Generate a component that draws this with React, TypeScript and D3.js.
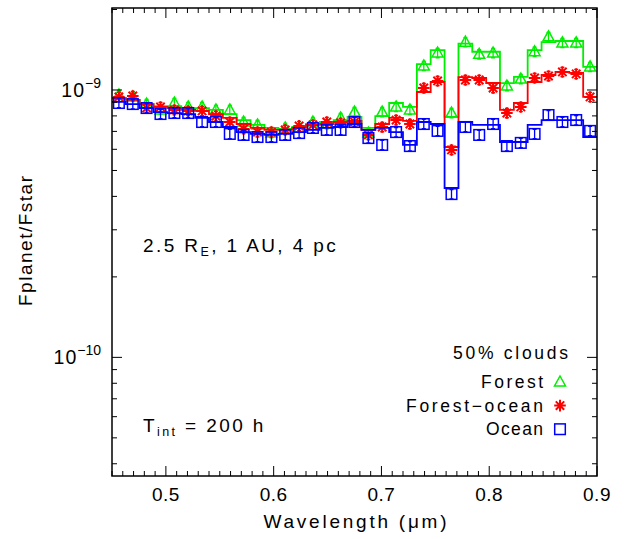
import React from 'react';
import * as d3 from 'd3';

// Bin centres (micron), uniform bins
const WAVELENGTH = [
  0.4564, 0.4693, 0.4821, 0.495, 0.5079, 0.5207, 0.5336, 0.5464, 0.5593, 0.5721,
  0.585, 0.5979, 0.6107, 0.6236, 0.6364, 0.6493, 0.6621, 0.675, 0.6879, 0.7007,
  0.7136, 0.7264, 0.7393, 0.7521, 0.765, 0.7779, 0.7907, 0.8036, 0.8164, 0.8293,
  0.8421, 0.855, 0.8679, 0.8807, 0.8936,
];
const BIN_WIDTH = 0.012857;

// Values in units of 1e-10
const FOREST_MODEL = [9.33, 9.18, 8.86, 8.71, 8.71, 8.56, 8.56, 8.42, 8.13, 7.72, 7.4, 7.21, 7.15, 7.27, 7.46, 7.59, 7.72, 7.93, 7.21, 7.99, 8.94, 8.64, 12.5, 14.1, 7.93, 14.9, 13.9, 13.9, 10.6, 11.2, 14.1, 15.1, 15.25, 15.25, 12.2];
const FOREST_OBS = [9.58, 9.42, 8.86, 8.42, 8.94, 8.64, 8.64, 8.42, 8.42, 7.59, 7.4, 6.9, 7.21, 7.21, 7.59, 7.46, 7.86, 8.27, 6.9, 8.27, 8.64, 8.42, 12.3, 13.75, 8.2, 15.1, 13.6, 13.75, 10.35, 10.99, 13.9, 15.8, 15.0, 15.0, 12.2];
const FOREST_OCEAN_MODEL = [9.33, 9.18, 8.86, 8.64, 8.56, 8.42, 8.35, 8.13, 7.86, 7.46, 7.21, 7.09, 7.09, 7.21, 7.4, 7.46, 7.59, 7.66, 7.09, 7.46, 7.86, 7.66, 9.83, 10.71, 6.12, 11.18, 11.09, 10.62, 8.42, 8.94, 10.71, 11.38, 11.68, 11.58, 9.42];
const FOREST_OCEAN_OBS = [9.42, 9.5, 8.56, 8.64, 8.42, 8.35, 8.35, 7.99, 7.59, 7.15, 6.96, 6.96, 7.09, 7.34, 7.4, 7.59, 7.53, 7.59, 6.79, 7.27, 7.72, 7.46, 10.17, 10.81, 5.97, 10.9, 10.9, 10.17, 8.2, 8.64, 11.09, 11.28, 11.68, 11.48, 9.42];
const OCEAN_MODEL = [9.02, 8.86, 8.56, 8.27, 8.2, 8.13, 7.86, 7.59, 7.27, 6.96, 6.85, 6.79, 6.85, 6.96, 7.09, 7.21, 7.27, 7.46, 7.09, 7.21, 6.96, 6.23, 7.59, 7.46, 4.3, 7.59, 7.4, 7.4, 6.39, 6.39, 7.4, 7.72, 7.72, 7.72, 6.67];
const OCEAN_OBS = [8.94, 8.86, 8.56, 8.13, 8.2, 8.2, 7.59, 7.59, 6.85, 6.79, 6.67, 6.67, 6.79, 6.9, 7.21, 7.09, 7.09, 7.59, 6.61, 6.23, 6.96, 6.17, 7.46, 7.03, 4.08, 7.27, 6.79, 7.46, 6.17, 6.34, 6.85, 8.06, 7.59, 7.72, 7.03];
const ERR_FRAC = 0.04;
const UNIT = 1e-10;

const SERIES_NAMES = ['Forest', 'Forest\u2212ocean', 'Ocean'];
const SERIES_COLORS = ['#00ee00', '#ff0000', '#0000ff'];
const SERIES_SYMBOLS = ['triangle', 'star', 'square'];

const X_DOMAIN = [0.45, 0.9];
const Y_DOMAIN = [3.6e-11, 2.026e-9];

const W = 635;
const H = 539;
const PL = 112, PR = 597, PT = 8, PB = 476;
const FONT = '"Liberation Sans", Arial, sans-serif';

function Marker({ type, cx, cy, color }: { type: string; cx: number; cy: number; color: string }) {
  const sw = 1.5;
  if (type === 'triangle') {
    const p = `M${cx},${cy - 6}L${cx + 5.5},${cy + 4}L${cx - 5.5},${cy + 4}Z`;
    return <path d={p} fill="none" stroke={color} strokeWidth={sw} />;
  }
  if (type === 'square') {
    return <rect x={cx - 5.3} y={cy - 5.3} width={10.6} height={10.6} fill="none" stroke={color} strokeWidth={sw} />;
  }
  const r = 5.8;
  const d = 4.2;
  const p = `M${cx},${cy - r}V${cy + r}M${cx - r},${cy}H${cx + r}M${cx - d},${cy - d}L${cx + d},${cy + d}M${cx - d},${cy + d}L${cx + d},${cy - d}`;
  return <path d={p} fill="none" stroke={color} strokeWidth={2} />;
}

export default function App() {
  const x = d3.scaleLinear().domain(X_DOMAIN).range([PL, PR]);
  const y = d3.scaleLog().domain(Y_DOMAIN).range([PB, PT]);

  const models = [FOREST_MODEL, FOREST_OCEAN_MODEL, OCEAN_MODEL];
  const obs = [FOREST_OBS, FOREST_OCEAN_OBS, OCEAN_OBS];

  const step = d3
    .line<[number, number]>()
    .x((d) => x(d[0]))
    .y((d) => y(d[1] * UNIT))
    .curve(d3.curveStepAfter);

  const stepPts = (vals: number[]): [number, number][] => {
    const pts: [number, number][] = WAVELENGTH.map((c, i) => [c - BIN_WIDTH / 2, vals[i]]);
    const n = WAVELENGTH.length - 1;
    pts.push([WAVELENGTH[n] + BIN_WIDTH / 2, vals[n]]);
    return pts;
  };

  const xMajor = x.ticks(5);
  const xMinor = x.ticks(45);
  const yTicks = y.ticks();
  const isMajorY = (v: number) => Math.abs(Math.log10(v) - Math.round(Math.log10(v))) < 1e-6;

  return (
    <div style={{ position: 'absolute', left: 0, top: 0 }}>
      <svg width={W} height={H} style={{ display: 'block', background: '#fff' }} fontFamily={FONT}>
        <defs>
          <clipPath id="plot">
            <rect x={PL} y={PT} width={PR - PL} height={PB - PT} />
          </clipPath>
        </defs>
        <rect width={W} height={H} fill="#fff" />

        <g clipPath="url(#plot)">
          {models.map((m, s) => (
            <g key={s}>
              <path d={step(stepPts(m)) || ''} fill="none" stroke={SERIES_COLORS[s]} strokeWidth={1.8} />
              {obs[s].map((v, i) => {
                const cx = x(WAVELENGTH[i]);
                const y0 = y(v * (1 - ERR_FRAC) * UNIT);
                const y1 = y(v * (1 + ERR_FRAC) * UNIT);
                return (
                  <g key={i}>
                    <path
                      d={`M${cx},${y0}V${y1}M${cx - 2},${y0}H${cx + 2}M${cx - 2},${y1}H${cx + 2}`}
                      stroke={SERIES_COLORS[s]}
                      strokeWidth={1.3}
                      fill="none"
                    />
                    <Marker type={SERIES_SYMBOLS[s]} cx={cx} cy={y(v * UNIT)} color={SERIES_COLORS[s]} />
                  </g>
                );
              })}
            </g>
          ))}
        </g>

        {/* frame */}
        <rect x={PL} y={PT} width={PR - PL} height={PB - PT} fill="none" stroke="#000" strokeWidth={1.5} />

        {/* x ticks */}
        {xMinor.map((t, i) => {
          const major = xMajor.some((m) => Math.abs(m - t) < 1e-9);
          const len = major ? 10 : 5;
          const xx = x(t);
          return (
            <g key={i} stroke="#000" strokeWidth={1}>
              <line x1={xx} x2={xx} y1={PB} y2={PB - len} />
              <line x1={xx} x2={xx} y1={PT} y2={PT + len} />
            </g>
          );
        })}
        {xMajor.map((t, i) => (
          <text key={i} x={x(t)} y={501} textAnchor="middle" fontSize={19} letterSpacing={0.5}>
            {t.toFixed(1)}
          </text>
        ))}

        {/* y ticks */}
        {yTicks.map((t, i) => {
          const len = isMajorY(t) ? 10 : 5;
          const yy = y(t);
          return (
            <g key={i} stroke="#000" strokeWidth={1}>
              <line x1={PL} x2={PL + len} y1={yy} y2={yy} />
              <line x1={PR} x2={PR - len} y1={yy} y2={yy} />
            </g>
          );
        })}
        {yTicks.filter(isMajorY).map((t, i) => (
          <text key={i} x={101} y={y(t) + 7} textAnchor="end" fontSize={19.5}>
            <tspan letterSpacing={1}>10</tspan>
            <tspan dy={-9} fontSize={14}>{`\u2212${Math.abs(Math.round(Math.log10(t)))}`}</tspan>
          </text>
        ))}

        {/* axis titles */}
        <text x={355} y={528} textAnchor="middle" fontSize={19} textLength={183} lengthAdjust="spacing">
          Wavelength (μm)
        </text>
        <text
          transform={`translate(32,241) rotate(-90)`}
          textAnchor="middle"
          fontSize={19}
          textLength={130}
          lengthAdjust="spacing"
        >
          Fplanet/Fstar
        </text>

        {/* annotations */}
        <text x={143} y={252} fontSize={19} letterSpacing={2.4}>
          <tspan>2.5 R</tspan>
          <tspan dy={4} fontSize={12.5}>E</tspan>
          <tspan dy={-4}>, 1 AU, 4 pc</tspan>
        </text>
        <text x={143} y={432} fontSize={19} letterSpacing={2.4}>
          <tspan>T</tspan>
          <tspan dy={4} fontSize={12.5}>int</tspan>
          <tspan dy={-4}> = 200 h</tspan>
        </text>

        {/* legend */}
        <text x={568} y={359} textAnchor="end" fontSize={17.5} textLength={115} lengthAdjust="spacing">
          50% clouds
        </text>
        {SERIES_NAMES.map((name, s) => {
          const ly = 382 + s * 23.6;
          return (
            <g key={s}>
              <text
                x={543}
                y={ly + 6}
                textAnchor="end"
                fontSize={17.5}
                textLength={s === 1 ? 137 : s === 0 ? 62 : 57}
                lengthAdjust="spacing"
              >
                {name}
              </text>
              <Marker type={SERIES_SYMBOLS[s]} cx={560} cy={ly} color={SERIES_COLORS[s]} />
            </g>
          );
        })}
      </svg>
    </div>
  );
}
